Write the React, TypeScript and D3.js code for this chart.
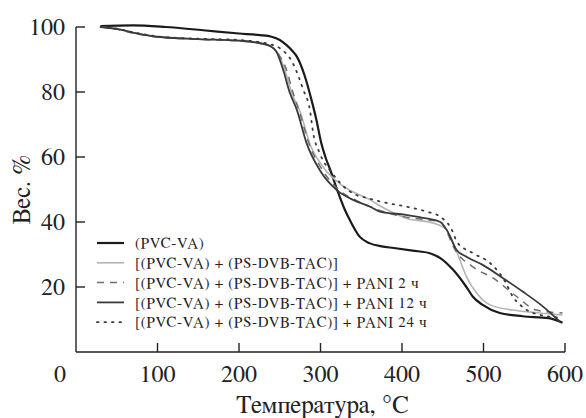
import React, { useEffect } from 'react';
import * as d3 from 'd3';

// TGA curves, [temperature °C, weight %]
const pvcVa: [number, number][] = [
  [30, 100.3], [70, 100.5], [110, 100], [156, 99], [200, 98], [226, 97.5], [240, 97],
  [250, 96], [258, 94.5], [265, 92.8], [271, 90.9], [281, 84.7], [289, 77.5], [295, 71.4],
  [301, 64.2], [306, 60], [312, 56], [321, 49.5], [330, 43.7], [336, 40.6], [348, 35.5],
  [360, 33.5], [375, 32.5], [390, 32], [413, 31.2], [434, 30.4], [447, 28.9], [463, 25.2],
  [479, 20], [487, 17], [499, 14.5], [520, 12], [548, 11], [580, 10.4], [597, 9],
];

const psDvbTac: [number, number][] = [
  [30, 100], [50, 99.4], [70, 98.2], [100, 97], [150, 96.3], [200, 95.8], [226, 95],
  [238, 94.2], [247, 92.2], [256, 87], [265, 79.5], [275, 74], [287, 64], [303, 57],
  [328, 51], [361, 46.8], [380, 44], [406, 41.1], [438, 39.7], [455, 37.5], [463, 33.5],
  [471, 28.3], [479, 23.2], [492, 18], [508, 14.5], [536, 12.9], [569, 12], [597, 11.4],
];

const pani2: [number, number][] = [
  [30, 100], [50, 99.3], [70, 98.1], [100, 96.9], [150, 96.2], [200, 95.7], [226, 95],
  [238, 94.1], [247, 92.1], [258, 87], [266, 80], [274, 74], [286, 64], [301, 56.5],
  [322, 50], [345, 46.5], [365, 44.3], [405, 41.5], [430, 40.7], [447, 40], [455, 37],
  [463, 32.4], [487, 26.2], [512, 22.7], [541, 17], [565, 12.9], [597, 12],
];

const pani12: [number, number][] = [
  [30, 100], [50, 99.4], [70, 98.3], [100, 97], [150, 96.3], [200, 95.8], [226, 95],
  [238, 94.2], [246, 92.4], [254, 87], [262, 80], [271, 74.5], [283, 64.2], [299, 56],
  [320, 49.8], [340, 46.8], [361, 44.7], [373, 43.2], [405, 42.2], [430, 41.1], [447, 40],
  [455, 37.5], [467, 31.4], [479, 29.3], [499, 26.8], [524, 22.7], [548, 18.6], [572, 14.2],
  [594, 9.3],
];

const pani24: [number, number][] = [
  [30, 100], [50, 99.5], [70, 98.4], [100, 97.1], [150, 96.4], [200, 96], [226, 95.3],
  [240, 94.6], [250, 93.5], [266, 88.9], [279, 80.6], [287, 74.5], [291, 67.4], [299, 61.2],
  [316, 54.5], [326, 51.5], [344, 48.3], [357, 47.4], [373, 46.3], [406, 44.7], [430, 43.2],
  [447, 41.6], [463, 36.6], [467, 34], [487, 30.4], [508, 27.4], [528, 21], [536, 17],
  [545, 14.5], [561, 12], [597, 10.5],
];

const legendLabels = [
  '(PVC-VA)',
  '[(PVC-VA) + (PS-DVB-TAC)]',
  '[(PVC-VA) + (PS-DVB-TAC)] + PANI 2 ч',
  '[(PVC-VA) + (PS-DVB-TAC)] + PANI 12 ч',
  '[(PVC-VA) + (PS-DVB-TAC)] + PANI 24 ч',
];

const xTicks = [100, 200, 300, 400, 500, 600];
const yTicks = [20, 40, 60, 80, 100];

const series = [
  { data: pvcVa, color: '#1a1a1a', width: 2.2, dash: '' },
  { data: psDvbTac, color: '#b4b4b4', width: 1.6, dash: '' },
  { data: pani2, color: '#6e6e6e', width: 1.5, dash: '7,6' },
  { data: pani12, color: '#3a3a3a', width: 1.8, dash: '' },
  { data: pani24, color: '#3a3a3a', width: 1.8, dash: '1.5,6' },
];

const W = 586;
const H = 418;
const margin = { top: 27, right: 21, bottom: 66, left: 76 };

export default function App() {
  useEffect(() => {
    document.body.style.margin = '0';
  }, []);

  const x = d3.scaleLinear().domain([0, 600]).range([margin.left, W - margin.right]);
  const y = d3.scaleLinear().domain([0, 100]).range([H - margin.bottom, margin.top]);

  const line = d3.line<[number, number]>()
    .x(d => x(d[0]))
    .y(d => y(d[1]))
    .curve(d3.curveMonotoneX);

  const font = "'FreeSerif', 'Liberation Serif', serif";
  const x0 = x(0);
  const yBase = y(0);

  return (
    <svg width={W} height={H} style={{ display: 'block', background: '#fff', fontFamily: font }}>
      {/* axes */}
      <line x1={x0} x2={x0} y1={y(100)} y2={yBase} stroke="#222" strokeWidth={1.4} />
      <line x1={x0} x2={x(600)} y1={yBase} y2={yBase} stroke="#222" strokeWidth={1.4} />
      {yTicks.map(t => (
        <g key={'y' + t}>
          <line x1={x0} x2={x0 + 9} y1={y(t)} y2={y(t)} stroke="#222" strokeWidth={1.4} />
          <text x={x0 - 11} y={y(t)} dy="0.33em" textAnchor="end" fontSize={24} fill="#222">{t}</text>
        </g>
      ))}
      {xTicks.map(t => (
        <g key={'x' + t}>
          <line x1={x(t)} x2={x(t)} y1={yBase} y2={yBase - 9} stroke="#222" strokeWidth={1.4} />
          <text x={x(t)} y={yBase + 30} textAnchor="middle" fontSize={24} fill="#222">{t}</text>
        </g>
      ))}
      <text x={x0 - 16} y={yBase + 30} textAnchor="middle" fontSize={24} fill="#222">0</text>
      <text x={(x0 + x(600)) / 2 + 2} y={H - 5} textAnchor="middle" fontSize={25} fill="#222">Температура, °C</text>
      <text transform={`translate(30, ${y(50)}) rotate(-90)`} textAnchor="middle" fontSize={25} fill="#222">Вес. %</text>

      {/* curves */}
      {series.map((s, i) => (
        <path key={i} d={line(s.data) || ''} fill="none" stroke={s.color}
          strokeWidth={s.width} strokeDasharray={s.dash || undefined}
          strokeLinecap={s.dash.startsWith('1.5') ? 'round' : 'butt'} />
      ))}

      {/* legend */}
      {series.map((s, i) => {
        const ly = 243 + i * 19.8;
        return (
          <g key={'l' + i}>
            <line x1={97} x2={124} y1={ly} y2={ly} stroke={s.color} strokeWidth={s.width}
              strokeDasharray={s.dash || undefined}
              strokeLinecap={s.dash.startsWith('1.5') ? 'round' : 'butt'} />
            <text x={135} y={ly} dy="0.35em" fontSize={15} letterSpacing={0.7} fill="#222">{legendLabels[i]}</text>
          </g>
        );
      })}
    </svg>
  );
}
